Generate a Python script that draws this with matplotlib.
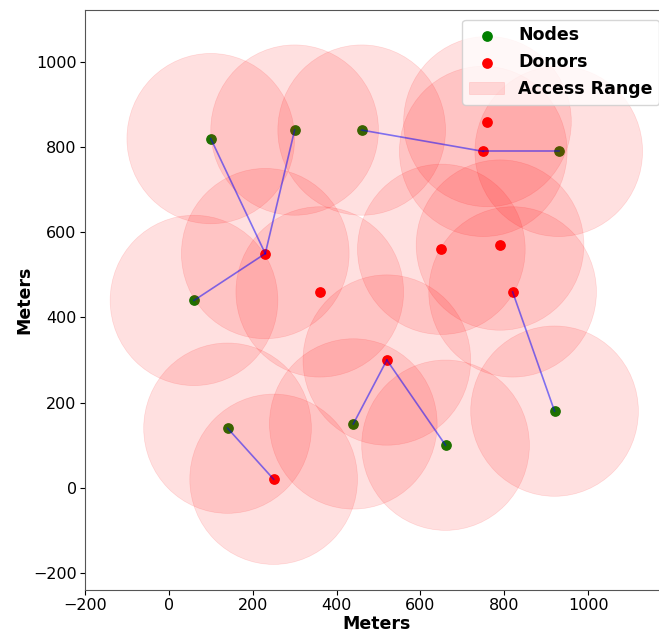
import matplotlib
matplotlib.use("Agg")
import matplotlib.pyplot as plt
from matplotlib.patches import Circle

node_x = [100, 300, 460, 930, 60, 140, 440, 660, 920]
node_y = [820, 840, 840, 790, 440, 140, 150, 100, 180]
donor_x = [760, 750, 230, 650, 790, 360, 820, 520, 250]
donor_y = [860, 790, 550, 560, 570, 460, 460, 300, 20]
# links: (node index, donor index)
links = [(0, 2), (1, 2), (4, 2), (2, 1), (3, 1), (8, 6), (6, 7), (7, 7), (5, 8)]
access_radius = 200

fig = plt.figure(figsize=(6.59, 6.35), dpi=100)
ax = fig.add_axes([85/659, 45/635, 584/659, 580/635])

ax.scatter(node_x, node_y, s=45, color='green', label='Nodes', zorder=2)
ax.scatter(donor_x, donor_y, s=45, color='red', label='Donors', zorder=2)

first = True
for x, y in list(zip(node_x, node_y)) + list(zip(donor_x, donor_y)):
    c = Circle((x, y), access_radius, color='red', alpha=0.12, lw=0.5,
               zorder=3, label='Access Range' if first else None)
    ax.add_patch(c)
    first = False

for ni, di in links:
    ax.plot([node_x[ni], donor_x[di]], [node_y[ni], donor_y[di]],
            color='blue', alpha=0.5, lw=1.2, zorder=4)

ax.set_xlim(-200, 1193)
ax.set_ylim(-240, 1122)
ax.set_xticks([-200, 0, 200, 400, 600, 800, 1000])
ax.set_yticks([-200, 0, 200, 400, 600, 800, 1000])
ax.tick_params(labelsize=11.5, pad=2.5)
ax.set_xlabel('Meters', fontsize=12.5, fontweight='bold', labelpad=1)
ax.set_ylabel('Meters', fontsize=12.5, fontweight='bold', labelpad=0)
for s in ax.spines.values():
    s.set_color('#555555')

leg = ax.legend(loc='upper right', prop={'size': 12.5, 'weight': 'bold'},
                borderaxespad=0.55)
fig.savefig('out.png', dpi=100)
